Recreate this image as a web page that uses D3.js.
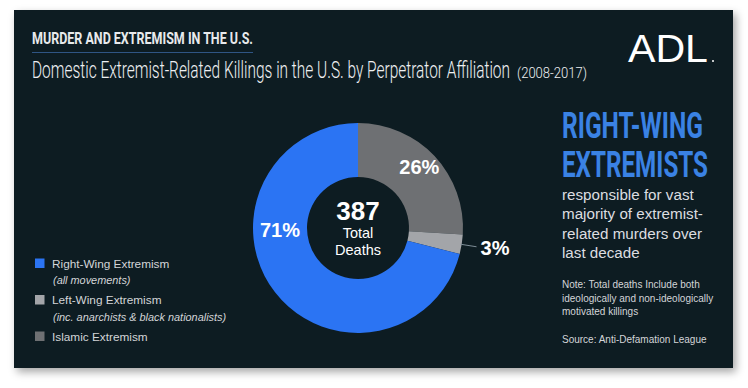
<!DOCTYPE html>
<html>
<head>
<meta charset="utf-8">
<script src="https://cdn.jsdelivr.net/npm/d3@7"></script>
<style>
  body { margin: 0; background: #ffffff; }
  svg { display: block; }
  text { font-family: "Liberation Sans", Arial, sans-serif; }
  .cond { font-family: "Roboto", "Liberation Sans", sans-serif; }
</style>
</head>
<body>
<div id="wrapper"></div>
<script>
// slices in drawing order (clockwise from 12 o'clock)
const sliceNames = ['Islamic Extremism', 'Left-Wing Extremism', 'Right-Wing Extremism'];
const slicePct = [26, 3, 71];
const sliceColors = ['#6e7073', '#a3a5a9', '#2b74f3'];

// legend order and sublines
const legendNames = ['Right-Wing Extremism', 'Left-Wing Extremism', 'Islamic Extremism'];
const legendNotes = ['(all movements)', '(inc. anarchists & black nationalists)', ''];

const totalDeaths = 387;
const bodyLines = ['responsible for vast', 'majority of extremist-', 'related murders over', 'last decade'];
const noteLines = ['Note: Total deaths Include both', 'ideologically and non-ideologically', 'motivated killings'];

function drawChart() {
    const width = 748;
    const height = 388;

    const card = { x: 14, y: 10, w: 719, h: 358 };

    const svg = d3.select('#wrapper')
        .append('svg')
        .attr('width', width)
        .attr('height', height);

    const defs = svg.append('defs');
    const f = defs.append('filter').attr('id', 'shadow')
        .attr('x', '-5%').attr('y', '-5%').attr('width', '115%').attr('height', '120%');
    f.append('feDropShadow')
        .attr('dx', 3).attr('dy', 4).attr('stdDeviation', 4)
        .attr('flood-color', '#000').attr('flood-opacity', 0.35);

    svg.append('rect')
        .attr('x', card.x).attr('y', card.y)
        .attr('width', card.w).attr('height', card.h)
        .attr('fill', '#0b1c24')
        .attr('filter', 'url(#shadow)');

    /// HEADER ////////////////////////////////////
    svg.append('text')
        .attr('class', 'cond')
        .attr('x', 32).attr('y', 44)
        .attr('font-size', 16).attr('font-weight', 700)
        .attr('fill', '#e8eaec')
        .attr('textLength', 221).attr('lengthAdjust', 'spacingAndGlyphs')
        .text('MURDER AND EXTREMISM IN THE U.S.');

    svg.append('line')
        .attr('x1', 32).attr('x2', 253)
        .attr('y1', 52.5).attr('y2', 52.5)
        .attr('stroke', '#2f5584').attr('stroke-width', 1);

    svg.append('text')
        .attr('class', 'cond')
        .attr('x', 32).attr('y', 78)
        .attr('font-size', 24).attr('font-weight', 300)
        .attr('fill', '#eef0f2')
        .attr('textLength', 478).attr('lengthAdjust', 'spacingAndGlyphs')
        .text('Domestic Extremist-Related Killings in the U.S. by Perpetrator Affiliation');

    svg.append('text')
        .attr('class', 'cond')
        .attr('x', 517).attr('y', 78)
        .attr('font-size', 15).attr('font-weight', 300)
        .attr('fill', '#eef0f2')
        .attr('textLength', 70).attr('lengthAdjust', 'spacingAndGlyphs')
        .text('(2008-2017)');

    // logo
    svg.append('text')
        .attr('x', 628).attr('y', 62)
        .attr('font-size', 39).attr('font-weight', 400)
        .attr('font-family', '"DejaVu Sans", sans-serif')
        .attr('fill', '#ffffff')
        .attr('textLength', 80).attr('lengthAdjust', 'spacingAndGlyphs')
        .text('ADL');
    svg.append('circle')
        .attr('cx', 713).attr('cy', 61).attr('r', 1)
        .attr('fill', '#ffffff');

    /// DONUT ////////////////////////////////////
    const cx = 358, cy = 228;
    const outerR = 105, innerR = 51;

    const pie = d3.pie().sort(null).value(d => d);
    const arcs = pie(slicePct);
    const arc = d3.arc().innerRadius(innerR).outerRadius(outerR);

    const g = svg.append('g').attr('transform', `translate(${cx},${cy})`);

    g.selectAll('path.slice')
        .data(arcs)
        .enter()
        .append('path')
        .attr('class', 'slice')
        .attr('d', arc)
        .attr('fill', (d, i) => sliceColors[i]);

    // 26% label on the slice
    const labelArc = d3.arc().innerRadius(80).outerRadius(80);
    const p0 = labelArc.centroid(arcs[0]);
    g.append('text')
        .attr('x', p0[0] + 3).attr('y', p0[1] - 6)
        .attr('text-anchor', 'middle').attr('dominant-baseline', 'central')
        .attr('font-size', 20).attr('font-weight', 700)
        .attr('fill', '#ffffff')
        .text(slicePct[0] + '%');

    // 3% label with leader line
    const mid1 = (arcs[1].startAngle + arcs[1].endAngle) / 2;
    const pt = (r, a) => [r * Math.sin(a), -r * Math.cos(a)];
    const l1 = pt(outerR - 1, mid1), l2 = pt(outerR + 15, mid1);
    g.append('line')
        .attr('x1', l1[0]).attr('y1', l1[1])
        .attr('x2', l2[0]).attr('y2', l2[1])
        .attr('stroke', '#7d8c96').attr('stroke-width', 1);
    g.append('text')
        .attr('x', l2[0] + 4).attr('y', l2[1] + 1)
        .attr('dominant-baseline', 'central')
        .attr('font-size', 20).attr('font-weight', 700)
        .attr('fill', '#ffffff')
        .text(slicePct[1] + '%');

    // 71% label placed on the left side of the blue ring
    const left = pt((innerR + outerR) / 2, -Math.PI / 2);
    g.append('text')
        .attr('x', left[0]).attr('y', left[1] + 2)
        .attr('text-anchor', 'middle').attr('dominant-baseline', 'central')
        .attr('font-size', 20).attr('font-weight', 700)
        .attr('fill', '#ffffff')
        .text(slicePct[2] + '%');

    // centre
    g.append('text')
        .attr('x', 0).attr('y', -8)
        .attr('text-anchor', 'middle')
        .attr('font-size', 26).attr('font-weight', 700)
        .attr('fill', '#ffffff')
        .text(totalDeaths);
    g.append('text')
        .attr('x', 0).attr('y', 10)
        .attr('text-anchor', 'middle')
        .attr('font-size', 14.5)
        .attr('fill', '#ffffff')
        .text('Total');
    g.append('text')
        .attr('x', 0).attr('y', 27)
        .attr('text-anchor', 'middle')
        .attr('font-size', 14.5)
        .attr('fill', '#ffffff')
        .text('Deaths');

    /// LEGEND ///////////////////////////////////
    const colorOf = d3.scaleOrdinal().domain(sliceNames).range(sliceColors);
    const legendY = d3.scalePoint().domain(legendNames).range([263, 336]);

    const leg = svg.selectAll('g.legend')
        .data(legendNames)
        .enter()
        .append('g')
        .attr('class', 'legend')
        .attr('transform', d => `translate(35,${legendY(d)})`);

    leg.append('rect')
        .attr('x', 0).attr('y', -4.5)
        .attr('width', 9.5).attr('height', 9.5)
        .attr('fill', d => colorOf(d));

    leg.append('text')
        .attr('x', 17).attr('y', 4.5)
        .attr('font-size', 11.8)
        .attr('fill', '#d3d5d8')
        .text(d => d);

    leg.append('text')
        .attr('x', 18).attr('y', 21)
        .attr('font-size', 10.9).attr('font-style', 'italic')
        .attr('fill', '#d3d5d8')
        .text((d, i) => legendNotes[i]);

    /// RIGHT PANEL ///////////////////////////////
    svg.append('text')
        .attr('class', 'cond')
        .attr('x', 562).attr('y', 138)
        .attr('font-size', 36).attr('font-weight', 700)
        .attr('fill', '#3a82e4')
        .attr('textLength', 141).attr('lengthAdjust', 'spacingAndGlyphs')
        .text('RIGHT-WING');
    svg.append('text')
        .attr('class', 'cond')
        .attr('x', 562).attr('y', 177)
        .attr('font-size', 36).attr('font-weight', 700)
        .attr('fill', '#3a82e4')
        .attr('textLength', 146).attr('lengthAdjust', 'spacingAndGlyphs')
        .text('EXTREMISTS');

    svg.selectAll('text.body')
        .data(bodyLines)
        .enter()
        .append('text')
        .attr('class', 'body')
        .attr('x', 562)
        .attr('y', (d, i) => 200 + i * 19.3)
        .attr('font-size', 15.2)
        .attr('fill', '#dcdee0')
        .text(d => d);

    svg.selectAll('text.note')
        .data(noteLines)
        .enter()
        .append('text')
        .attr('class', 'note')
        .attr('x', 562)
        .attr('y', (d, i) => 288 + i * 13.6)
        .attr('font-size', 10)
        .attr('fill', '#d3d5d8')
        .text(d => d);

    svg.append('text')
        .attr('x', 562).attr('y', 343)
        .attr('font-size', 10)
        .attr('fill', '#d3d5d8')
        .text('Source: Anti-Defamation League');
}

drawChart();
</script>
</body>
</html>
